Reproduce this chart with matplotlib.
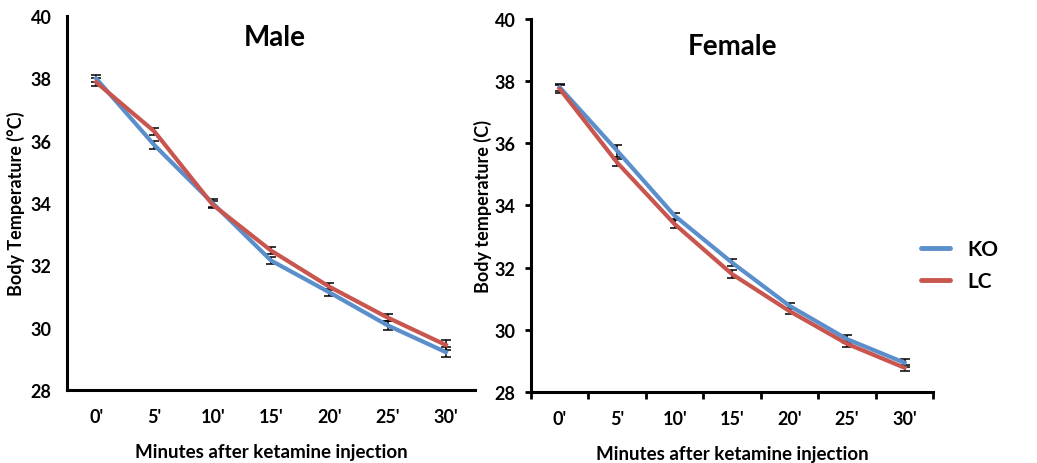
import matplotlib.pyplot as plt
import numpy as np

plt.rcParams['font.family'] = ['Lato', 'DejaVu Sans']
plt.rcParams['font.weight'] = 'bold'
plt.rcParams['axes.labelweight'] = 'bold'

minutes = ["0'", "5'", "10'", "15'", "20'", "25'", "30'"]

# body temperature (deg C), mean and error per time point
male_ko = [38.0, 35.86, 34.0, 32.16, 31.14, 30.08, 29.22]
male_lc = [37.88, 36.3, 33.95, 32.48, 31.32, 30.33, 29.45]
male_ko_err = [0.12, 0.12, 0.12, 0.12, 0.12, 0.15, 0.15]
male_lc_err = [0.12, 0.12, 0.12, 0.12, 0.12, 0.12, 0.15]

female_ko = [37.8, 35.76, 33.67, 32.16, 30.77, 29.7, 28.94]
female_lc = [37.75, 35.38, 33.4, 31.79, 30.6, 29.55, 28.78]
female_ko_err = [0.12, 0.2, 0.1, 0.12, 0.1, 0.12, 0.12]
female_lc_err = [0.12, 0.12, 0.12, 0.12, 0.1, 0.1, 0.1]

blue = '#5A8FCC'
red = '#C9554F'

fig = plt.figure(figsize=(10.37, 4.64), dpi=100)
ax1 = fig.add_axes([0.0646, 0.157, 0.3934, 0.806])
ax2 = fig.add_axes([0.512, 0.153, 0.388, 0.804])

x = np.arange(len(minutes))


def draw_panel(ax, ko, lc, ko_err, lc_err):
    ax.plot(x, ko, color=blue, lw=3.0, label='KO', zorder=3)
    ax.plot(x, lc, color=red, lw=3.0, label='LC', zorder=3)
    ax.errorbar(x, ko, yerr=ko_err, fmt='none', ecolor='black', elinewidth=1.1,
                capsize=3.5, capthick=1.1, zorder=2)
    ax.errorbar(x, lc, yerr=lc_err, fmt='none', ecolor='black', elinewidth=1.1,
                capsize=3.5, capthick=1.1, zorder=2)
    ax.set_xlim(-0.5, len(minutes) - 0.5)
    ax.set_ylim(28, 40)
    ax.set_yticks(np.arange(28, 41, 2))
    ax.set_xticks(x)
    ax.set_xticklabels(minutes)
    for s in ['top', 'right']:
        ax.spines[s].set_visible(False)
    for s in ['left', 'bottom']:
        ax.spines[s].set_linewidth(2.2)
    ax.tick_params(labelsize=13)
    for lbl in ax.get_xticklabels() + ax.get_yticklabels():
        lbl.set_fontweight('bold')


draw_panel(ax1, male_ko, male_lc, male_ko_err, male_lc_err)
draw_panel(ax2, female_ko, female_lc, female_ko_err, female_lc_err)

# left panel: no tick marks
ax1.tick_params(axis='both', length=0)
ax1.tick_params(axis='x', pad=13)
ax1.tick_params(axis='y', pad=11)

# right panel: ticks between categories on x, outward ticks on y
ax2.tick_params(axis='x', which='major', length=0, pad=13)
ax2.set_xticks(np.arange(-0.5, len(minutes)), minor=True)
ax2.tick_params(axis='x', which='minor', length=5, width=2, direction='out')
ax2.tick_params(axis='y', length=4, width=2, direction='out', pad=7)

ax1.set_xlabel('Minutes after ketamine injection', fontsize=13.5, fontweight='bold', labelpad=13)
ax2.set_xlabel('Minutes after ketamine injection', fontsize=13.5, fontweight='bold', labelpad=13)
ax1.set_ylabel('Body Temperature (°C)', fontsize=13, fontweight='bold', labelpad=4)
ax2.set_ylabel('Body temperature (C)', fontsize=13, fontweight='bold', labelpad=2)

ax1.text(0.51, 0.944, 'Male', transform=ax1.transAxes, ha='center', va='center',
         fontsize=20, fontweight='bold')
ax2.text(0.50, 0.928, 'Female', transform=ax2.transAxes, ha='center', va='center',
         fontsize=20, fontweight='bold')

leg = ax2.legend(loc='center left', bbox_to_anchor=(0.97, 0.34), frameon=False,
                 prop={'size': 15, 'weight': 'bold'}, handlelength=1.4,
                 handletextpad=0.8, labelspacing=0.6, borderpad=0, borderaxespad=0)
for h in leg.get_lines():
    h.set_linewidth(3.5)
    h.set_solid_capstyle('round')

fig.savefig('out.png', dpi=100)
